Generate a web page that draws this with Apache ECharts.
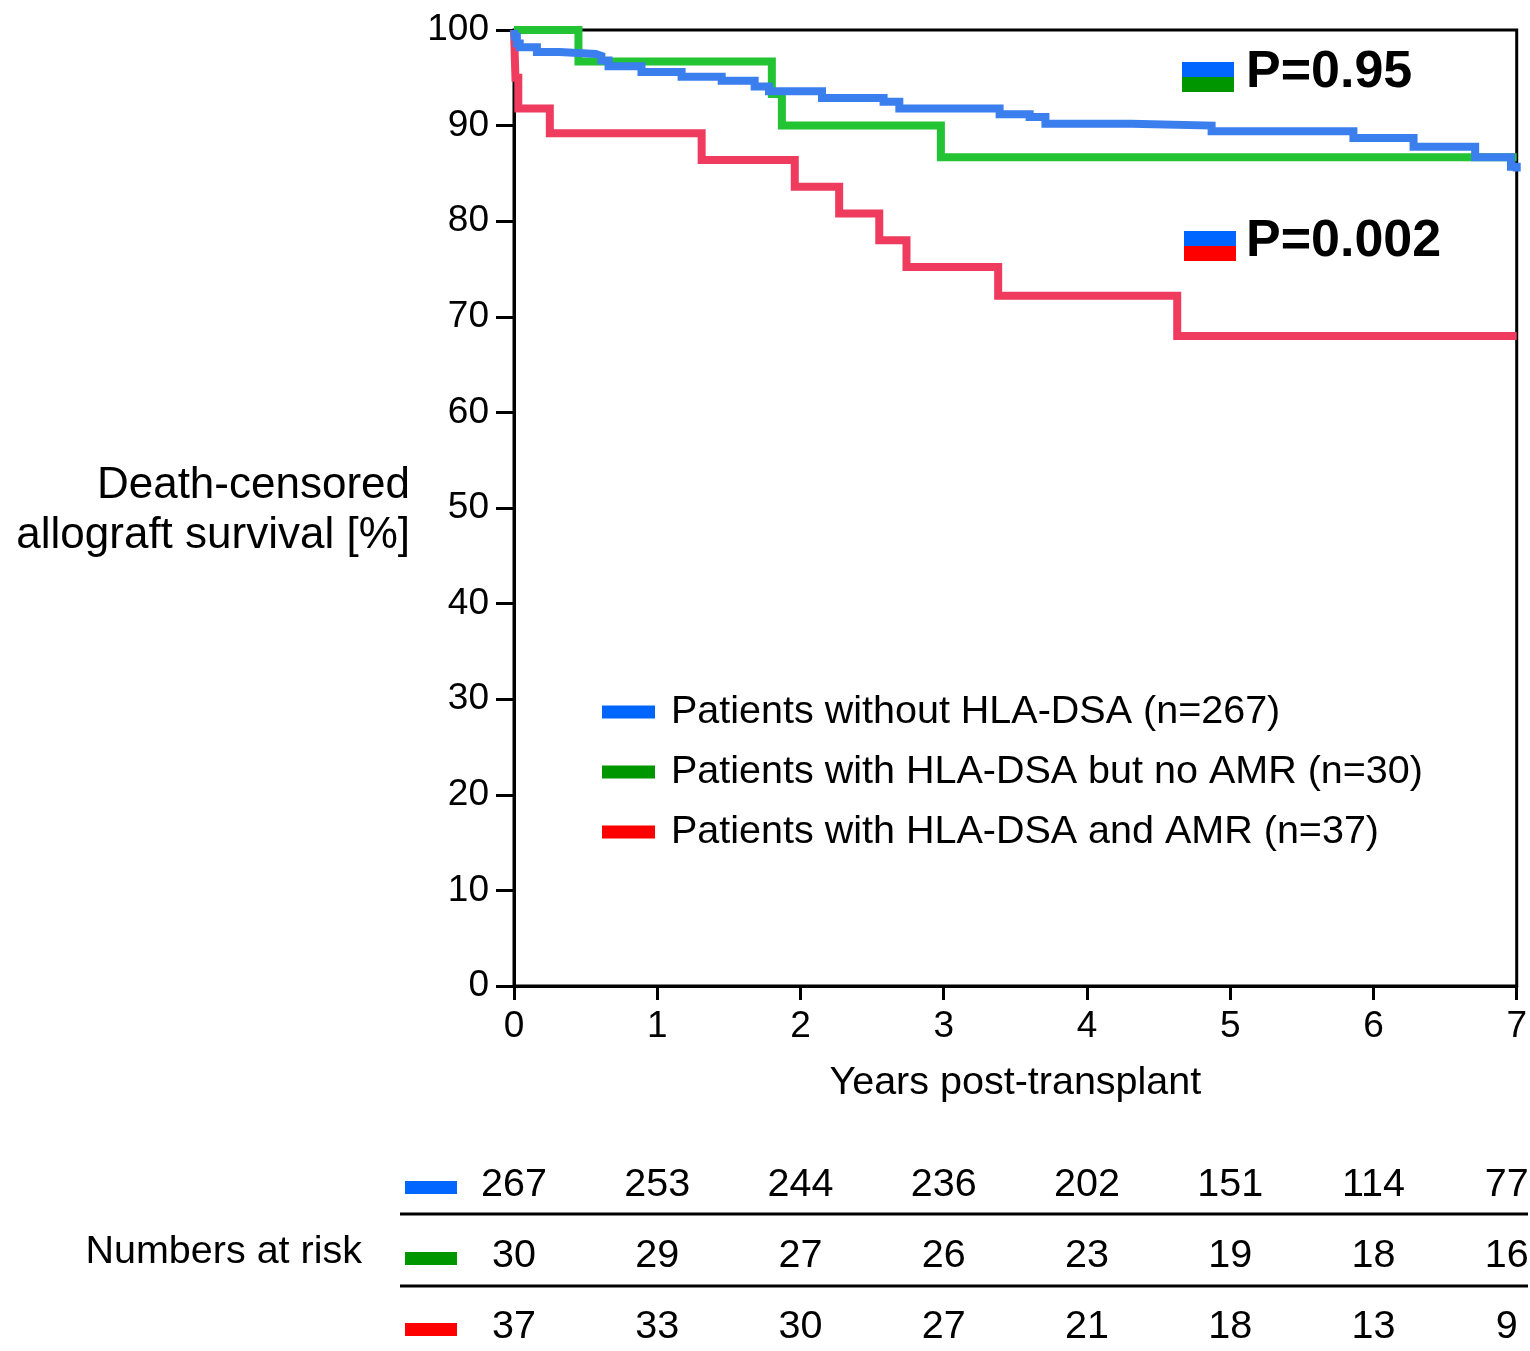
<!DOCTYPE html>
<html>
<head>
<meta charset="utf-8">
<script src="https://cdn.jsdelivr.net/npm/echarts@6/dist/echarts.min.js"></script>
<style>
  html, body { margin: 0; padding: 0; background: #fff; }
  #chart { width: 1530px; height: 1351px; }
</style>
</head>
<body>
<div id="chart"></div>
<script>
// Kaplan-Meier curves: [years post-transplant, survival %] after each event
const groupNames = [
  'Patients without HLA-DSA (n=267)',
  'Patients with HLA-DSA but no AMR (n=30)',
  'Patients with HLA-DSA and AMR (n=37)'
];
const noDsaCurve = [
  [0, 100], [0.005, 99.3], [0.02, 98.6], [0.04, 98.2], [0.16, 97.7], [0.32, 97.5],
  [0.57, 97.3], [0.61, 96.8], [0.66, 96.2], [0.89, 95.6], [1.17, 95.1], [1.45, 94.7],
  [1.68, 94.1], [1.78, 93.6], [2.15, 92.9], [2.58, 92.5], [2.69, 91.8], [3.39, 91.2],
  [3.60, 90.9], [3.71, 90.2], [4.31, 90.0], [4.87, 89.4], [5.86, 88.7], [6.28, 87.8],
  [6.71, 86.7], [6.96, 85.7], [7, 85.2]
];
const dsaNoAmrCurve = [
  [0, 100], [0.45, 96.7], [1.80, 93.3], [1.87, 90.0], [2.98, 86.7], [7, 86.7]
];
const dsaAmrCurve = [
  [0, 100], [0.01, 95.0], [0.03, 91.8], [0.25, 89.2], [1.31, 86.4], [1.96, 83.6], [2.27, 80.8],
  [2.55, 78.0], [2.74, 75.2], [3.38, 72.2], [4.63, 68.0], [7, 68.0]
];

// Numbers at risk at each whole year
const riskYears = [0, 1, 2, 3, 4, 5, 6, 7];
const atRiskNoDsa = [267, 253, 244, 236, 202, 151, 114, 77];
const atRiskDsaNoAmr = [30, 29, 27, 26, 23, 19, 18, 16];
const atRiskDsaAmr = [37, 33, 30, 27, 21, 18, 13, 9];

const pValueLabels = ['P=0.95', 'P=0.002'];
const yAxisTitle = ['Death-censored', 'allograft survival [%]'];
const xAxisTitle = 'Years post-transplant';
const riskTitle = 'Numbers at risk';

const lineColors = ['#3b7fee', '#22c433', '#ee3b5e'];
const keyColors = ['#0066ff', '#009600', '#ff0000'];
const FONT = '"Liberation Sans", Arial, Helvetica, sans-serif';

const chart = echarts.init(document.getElementById('chart'), null, { renderer: 'canvas' });

const axisLine = { lineStyle: { color: '#000', width: 3 } };

chart.setOption({
  animation: false,
  backgroundColor: '#fff',
  grid: {
    left: 514, right: 13, top: 30, bottom: 365,
    show: true, borderColor: '#000', borderWidth: 3, backgroundColor: 'transparent'
  },
  xAxis: {
    type: 'value', min: 0, max: 7, interval: 1,
    axisLine: axisLine,
    axisTick: { show: true, length: 14, lineStyle: { color: '#000', width: 3 } },
    axisLabel: { color: '#000', fontSize: 37, fontFamily: FONT, margin: 22 },
    splitLine: { show: false },
    name: xAxisTitle, nameLocation: 'middle', nameGap: 77,
    nameTextStyle: { color: '#000', fontSize: 39.5, fontFamily: FONT }
  },
  yAxis: {
    type: 'value', min: 0, max: 100, interval: 10,
    axisLine: axisLine,
    axisTick: { show: true, length: 18, lineStyle: { color: '#000', width: 3 } },
    axisLabel: { color: '#000', fontSize: 37, fontFamily: FONT, margin: 25 },
    splitLine: { show: false }
  },
  legend: {
    orient: 'vertical', left: 597, top: 687,
    icon: 'rect', itemWidth: 53, itemHeight: 13, itemGap: 20,
    textStyle: { color: '#000', fontSize: 39.5, fontFamily: FONT, lineHeight: 40, padding: [0, 0, 0, 11] },
    data: groupNames.map((n, i) => ({ name: n, itemStyle: { color: keyColors[i] } }))
  },
  series: [
    { name: groupNames[1], data: dsaNoAmrCurve, z: 2, color: lineColors[1] },
    { name: groupNames[2], data: dsaAmrCurve, z: 3, color: lineColors[2] },
    { name: groupNames[0], data: noDsaCurve, z: 4, color: lineColors[0] }
  ].map(s => ({
    type: 'line', step: 'end', showSymbol: false, symbol: 'none',
    name: s.name, data: s.data, z: s.z,
    lineStyle: { width: 8, color: s.color, cap: 'butt', join: 'miter' },
    itemStyle: { color: s.color }
  }))
});

// Annotations and the numbers-at-risk table, positioned through the x scale
const xPx = riskYears.map(v => chart.convertToPixel({ xAxisIndex: 0 }, v));
const graphics = [];

// Two-colour keys next to the log-rank P values
const pKeys = [
  { x: 1182, y: 62, colors: [keyColors[0], keyColors[1]], textY: 73 },
  { x: 1184, y: 231, colors: [keyColors[0], keyColors[2]], textY: 242 }
];
pKeys.forEach((k, i) => {
  graphics.push({ type: 'rect', shape: { x: k.x, y: k.y, width: 52, height: 15 }, style: { fill: k.colors[0] } });
  graphics.push({ type: 'rect', shape: { x: k.x, y: k.y + 15, width: 52, height: 15 }, style: { fill: k.colors[1] } });
  graphics.push({
    type: 'text', x: 1246, y: k.textY,
    style: { text: pValueLabels[i], fill: '#000', font: 'bold 52px ' + FONT, textAlign: 'left', textVerticalAlign: 'middle' }
  });
});

// Y axis title, right aligned beside the tick labels
yAxisTitle.forEach((t, i) => {
  graphics.push({
    type: 'text', x: 410, y: 486 + i * 50,
    style: { text: t, fill: '#000', font: '44px ' + FONT, textAlign: 'right', textVerticalAlign: 'middle' }
  });
});

// Numbers at risk
const riskRows = [atRiskNoDsa, atRiskDsaNoAmr, atRiskDsaAmr];
const rowY = [1185, 1256, 1327];
graphics.push({
  type: 'text', x: 362, y: 1252,
  style: { text: riskTitle, fill: '#000', font: '39.5px ' + FONT, textAlign: 'right', textVerticalAlign: 'middle' }
});
riskRows.forEach((row, r) => {
  graphics.push({ type: 'rect', shape: { x: 405, y: rowY[r] - 4, width: 52, height: 13 }, style: { fill: keyColors[r] } });
  row.forEach((n, c) => {
    const x = c === row.length - 1 ? xPx[c] - 10 : xPx[c];
    graphics.push({
      type: 'text', x: x, y: rowY[r],
      style: { text: String(n), fill: '#000', font: '39.5px ' + FONT, textAlign: 'center', textVerticalAlign: 'middle' }
    });
  });
});
[1214, 1286].forEach(y => {
  graphics.push({ type: 'line', shape: { x1: 400, y1: y, x2: 1528, y2: y }, style: { stroke: '#000', lineWidth: 3 } });
});

chart.setOption({ graphic: graphics });
</script>
</body>
</html>
